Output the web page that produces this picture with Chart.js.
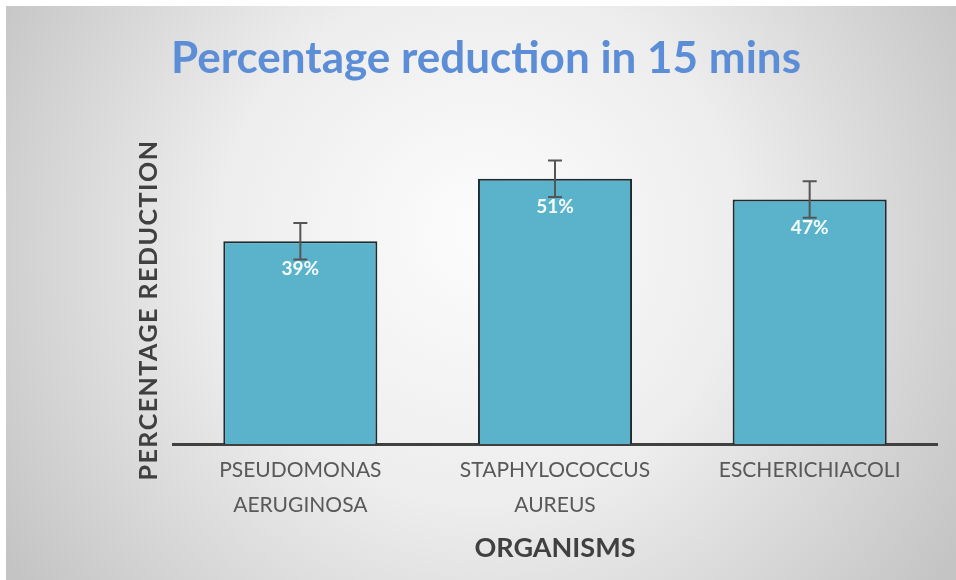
<!DOCTYPE html>
<html>
<head>
<meta charset="utf-8">
<title>Percentage reduction in 15 mins</title>
<script src="https://cdn.jsdelivr.net/npm/chart.js@4.4.1/dist/chart.umd.min.js"></script>
<style>
    html, body { margin: 0; padding: 0; background: #ffffff; }
    #wrap { width: 956px; height: 580px; position: relative; }
</style>
</head>
<body>
<div id="wrap"><canvas id="reductionChart" width="956" height="580"></canvas></div>
<script>
// Chart data
const organisms = [['PSEUDOMONAS', 'AERUGINOSA'], ['STAPHYLOCOCCUS', 'AUREUS'], ['ESCHERICHIACOLI']];
const reduction = [39, 51, 47];
const errorSize = [3.5, 3.5, 3.5];
const yMax = 60;

const yTitle = 'PERCENTAGE REDUCTION';
const xTitle = 'ORGANISMS';

document.addEventListener('DOMContentLoaded', () => {
    const ctx = document.getElementById('reductionChart');

    // grey vignette behind everything
    const backdrop = {
        id: 'backdrop',
        beforeDraw(chart) {
            const c = chart.ctx;
            const w = chart.width, h = chart.height;
            c.save();
            c.fillStyle = '#ffffff';
            c.fillRect(0, 0, w, h);
            const g = c.createRadialGradient(480, 230, 20, 480, 260, 560);
            g.addColorStop(0, '#fbfbfb');
            g.addColorStop(0.45, '#ededed');
            g.addColorStop(1, '#c4c4c4');
            c.fillStyle = g;
            c.fillRect(6, 6, w - 6, h - 6);
            c.restore();
        }
    };

    // value labels, error bars and the rotated y title
    const extras = {
        id: 'extras',
        afterDatasetsDraw(chart) {
            const c = chart.ctx;
            const meta = chart.getDatasetMeta(0);
            const y = chart.scales.y;

            c.save();
            c.font = 'bold 19px Lato';
            c.fillStyle = '#f4fbfb';
            c.textAlign = 'center';
            c.textBaseline = 'middle';
            meta.data.forEach((bar, i) => {
                c.fillText(reduction[i] + '%', bar.x, bar.y + 28);
            });

            c.strokeStyle = '#555555';
            c.lineWidth = 2;
            meta.data.forEach((bar, i) => {
                const hi = y.getPixelForValue(reduction[i] + errorSize[i]);
                const lo = y.getPixelForValue(reduction[i] - errorSize[i]);
                c.beginPath();
                c.moveTo(bar.x, hi);
                c.lineTo(bar.x, lo);
                c.moveTo(bar.x - 7, hi);
                c.lineTo(bar.x + 7, hi);
                c.moveTo(bar.x - 7, lo);
                c.lineTo(bar.x + 7, lo);
                c.stroke();
            });

            c.translate(149, 310);
            c.rotate(-Math.PI / 2);
            c.font = 'bold 25px Lato';
            c.letterSpacing = '1.5px';
            c.fillStyle = '#404040';
            c.fillText(yTitle, 0, 0);
            c.restore();
        }
    };

    new Chart(ctx, {
        type: 'bar',
        data: {
            labels: organisms,
            datasets: [{
                data: reduction,
                backgroundColor: '#5bb3cb',
                borderColor: '#1e2a30',
                borderWidth: 2,
                barPercentage: 0.605,
                categoryPercentage: 1
            }]
        },
        options: {
            responsive: false,
            animation: false,
            layout: { padding: { left: 35, right: 19, top: 0, bottom: 6 } },
            plugins: {
                legend: { display: false },
                tooltip: { enabled: false },
                title: {
                    display: true,
                    text: 'Percentage reduction in 15 mins',
                    color: '#5b8ed6',
                    font: { family: 'Lato', size: 44, weight: 'bold' },
                    padding: { top: 32, bottom: 47 }
                }
            },
            scales: {
                x: {
                    grid: { display: false, drawTicks: false },
                    border: { display: true, color: '#404040', width: 3 },
                    ticks: {
                        color: '#595959',
                        padding: 9,
                        font: { family: 'Lato', size: 21, lineHeight: 1.65 }
                    },
                    title: {
                        display: true,
                        text: xTitle,
                        color: '#404040',
                        font: { family: 'Lato', size: 27, weight: 'bold' },
                        padding: { top: 0, bottom: 10 }
                    }
                },
                y: {
                    display: true,
                    min: 0,
                    max: yMax,
                    grid: { display: false, drawTicks: false },
                    border: { display: false },
                    ticks: { display: false },
                    afterFit(scale) { scale.width = 138; }
                }
            }
        },
        plugins: [backdrop, extras]
    });
});
</script>
</body>
</html>
